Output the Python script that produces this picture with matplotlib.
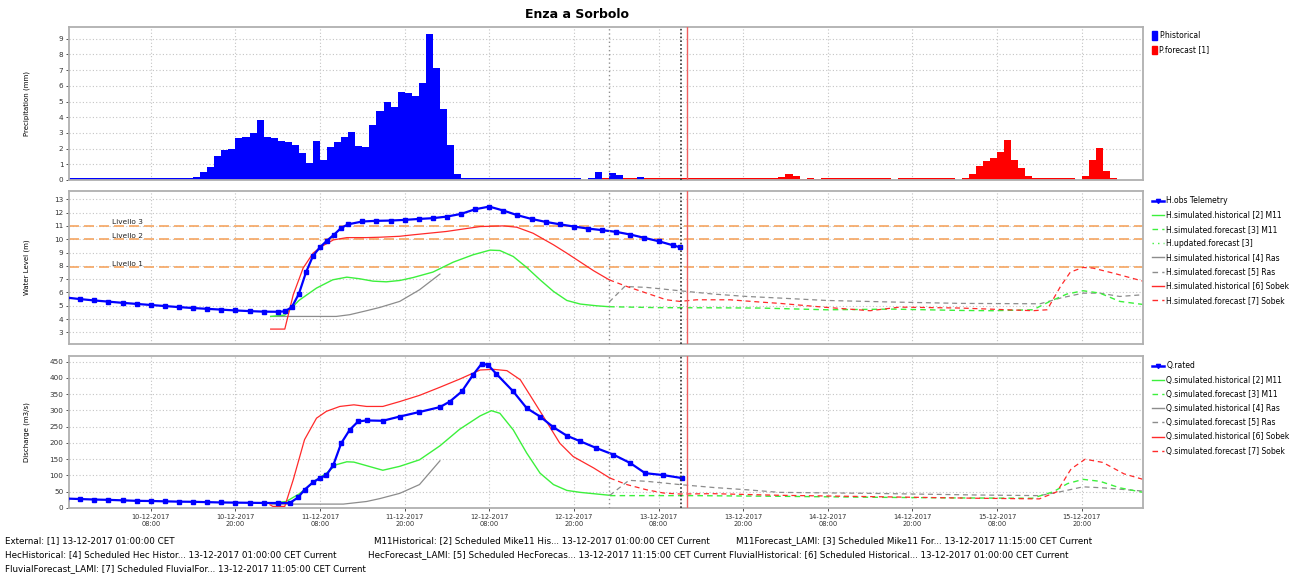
import numpy as np
import pandas as pd
import matplotlib
matplotlib.use('Agg')
import matplotlib.pyplot as plt
import matplotlib.dates as mdates
from matplotlib.patches import Patch
from matplotlib.lines import Line2D

# ---- data (hours from 10-12-2017 00:00) ----
T0 = pd.Timestamp('2017-12-10 00:00')

p_hist_h = list(range(-4, 79))
p_hist = ([0.1] * 16 +
          [0.15, 0.1, 0.2, 0.5, 0.8, 1.55, 1.9, 2.0, 2.65, 2.75, 3.0, 3.8,
           2.75, 2.65, 2.5, 2.4, 2.2, 1.7, 1.1, 2.5, 1.3, 2.1, 2.4, 2.75,
           3.05, 2.15, 2.1, 3.5, 4.4, 5.0, 4.65, 5.6, 5.53, 5.34, 6.19, 9.28,
           7.13, 4.53, 2.23, 0.38] +
          [0.1] * 17 +
          [0.0, 0.15, 0.49, 0.0, 0.45, 0.32, 0.0, 0.0, 0.2, 0.0])

p_fc_h = list(range(72, 145))
p_fc = ([0.1] * 25 +
        [0.2, 0.4, 0.25, 0.05, 0.13, 0.05] +
        [0.1] * 10 + [0.0] + [0.1] * 8 + [0.0] +
        [0.13, 0.36, 0.87, 1.19, 1.4, 1.81, 2.53, 1.26, 0.79, 0.26] +
        [0.1] * 6 + [0.0, 0.23, 1.26, 2.02, 0.6, 0.1])

h_obs_h = [-4, -2, 0, 2, 4, 6, 8, 10, 12, 14, 16, 18, 20, 22, 24, 26, 27, 28, 29,
           30, 31, 32, 33, 34, 35, 36, 38, 40, 42, 44, 46, 48, 50, 52, 54, 56, 58,
           60, 62, 64, 66, 68, 70, 72, 74, 76, 78, 80, 82, 83]
h_obs = [5.62, 5.5, 5.4, 5.31, 5.22, 5.14, 5.06, 4.98, 4.9, 4.83, 4.77, 4.71,
         4.65, 4.6, 4.56, 4.55, 4.58, 4.9, 5.9, 7.5, 8.75, 9.4, 9.9, 10.35, 10.85,
         11.12, 11.33, 11.38, 11.4, 11.45, 11.52, 11.58, 11.7, 11.9, 12.25, 12.45,
         12.15, 11.8, 11.52, 11.3, 11.12, 10.95, 10.8, 10.68, 10.55, 10.35, 10.1,
         9.85, 9.55, 9.4]

h_m11_hist_h = [25, 27, 29, 31.5, 33.8, 35.8, 37.6, 39.5, 41.4, 43.3, 45.2, 48,
                50.9, 53.7, 56.1, 57.5, 59.4, 61.3, 63.2, 65.1, 67, 68.9, 71.2, 73]
h_m11_hist = [4.2, 4.3, 5.4, 6.33, 6.95, 7.15, 7.03, 6.85, 6.8, 6.9, 7.12, 7.53,
              8.28, 8.83, 9.18, 9.15, 8.7, 7.88, 6.95, 6.08, 5.4, 5.13, 5.0, 4.93]
h_m11_fc_h = [73, 80, 87, 94.4, 103.8, 113.3, 122.8, 127.4, 133.1, 135.5, 137.9,
              140.2, 142.6, 145.4, 148.7]
h_m11_fc = [4.93, 4.86, 4.85, 4.83, 4.7, 4.75, 4.65, 4.63, 4.7, 5.33, 5.88, 6.13,
            5.95, 5.33, 5.1]

h_ras_hist_h = [25, 34.3, 36.2, 38.6, 40.5, 43.3, 46.1, 49]
h_ras_hist = [4.2, 4.2, 4.33, 4.63, 4.88, 5.33, 6.2, 7.38]
h_ras_fc_h = [73, 75.2, 78.3, 83, 87.8, 92.5, 97.2, 103.8, 113.3, 122.8, 134.1,
              137, 140.2, 142.6, 145.4, 148.7]
h_ras_fc = [5.28, 6.45, 6.38, 6.13, 5.88, 5.7, 5.58, 5.4, 5.28, 5.18, 5.15, 5.58,
            5.95, 5.95, 5.7, 5.83]

h_sob_hist_h = [25, 27, 28.2, 29.6, 31, 32.2, 33.9, 35.8, 38.6, 40.5, 43.3, 45.2,
                49.9, 54.7, 58, 59.9, 62.2, 65.1, 67, 70.8, 73]
h_sob_hist = [3.25, 3.25, 5.83, 7.83, 8.95, 9.45, 9.95, 10.12, 10.12, 10.15, 10.22,
              10.33, 10.58, 10.95, 11.0, 10.9, 10.45, 9.58, 8.95, 7.63, 6.95]
h_sob_fc_h = [73, 75.5, 78.3, 81.1, 83, 85.4, 90.1, 94.4, 97.2, 103.8, 110, 114.2,
              122.8, 133.1, 135.1, 137, 138.4, 140.2, 141.6, 144.5, 148.7]
h_sob_fc = [6.95, 6.45, 5.95, 5.45, 5.33, 5.45, 5.45, 5.28, 5.18, 4.88, 4.63, 4.9,
            4.83, 4.63, 4.7, 6.45, 7.53, 7.88, 7.83, 7.45, 6.85]

levels = [11.0, 10.0, 7.9]
level_names = ['Livello 3', 'Livello 2', 'Livello 1']

q_obs_h = [-4, -2, 0, 2, 4, 6, 8, 10, 12, 14, 16, 18, 20, 22, 24, 26, 27.7, 28.9,
           29.8, 31, 32, 32.9, 33.9, 35, 36.2, 37.4, 38.6, 40.9, 43.3, 46.1, 49,
           50.4, 52.1, 53.7, 54.9, 55.8, 57, 59.4, 61.3, 63.2, 65.1, 67, 68.9,
           71.2, 73.6, 76, 78.1, 80.7, 83.3]
q_obs = [29, 27.5, 26, 25, 23.5, 22, 21.5, 20.5, 19.5, 19, 18, 17, 16.5, 16, 15.5,
         15.3, 15.3, 32.7, 56, 79, 92, 101, 133, 199, 240, 266, 269, 268, 281, 295,
         310, 327, 358, 409, 443, 440, 412, 358, 307, 281, 248, 222, 205, 184, 164,
         138, 107, 101, 92]

q_m11_hist_h = [25.1, 27.2, 29.1, 31.5, 32.9, 34.3, 35.8, 36.8, 38.6, 40.9, 43.3,
                46.1, 49, 51.8, 54.7, 56.3, 57.5, 59.4, 61.3, 63.2, 65.1, 67, 68.9,
                73.1]
q_m11_hist = [15, 20, 44, 87, 107, 133, 142, 141, 130, 116, 128, 148, 191, 242,
              283, 299, 291, 240, 169, 107, 72, 54, 48, 39]
q_m11_fc_h = [73.1, 85, 97, 110, 122, 133, 136, 138, 140.2, 142.6, 145.4, 148.7]
q_m11_fc = [38, 38, 36, 33, 31, 30, 50, 75, 88, 82, 62, 48]

q_ras_hist_h = [25.1, 35.3, 38.6, 40.5, 43.3, 46.1, 49]
q_ras_hist = [12, 12, 20, 29, 45, 72, 145]
q_ras_fc_h = [73.1, 75.8, 78.3, 83, 87.8, 92.5, 97.2, 110, 125, 134, 137, 140.2,
              143, 148.7]
q_ras_fc = [39, 85, 82, 72, 63, 56, 48, 45, 40, 38, 50, 65, 62, 52]

q_sob_hist_h = [24.9, 25.3, 27, 28.2, 29.8, 31.5, 32.9, 34.8, 36.8, 38.6, 40.9,
                43.3, 46.1, 49, 51.8, 54.7, 56.6, 58.5, 60.4, 62.2, 64.1, 66, 67.9,
                70.8, 73.1]
q_sob_hist = [10, 5, 5, 87, 210, 276, 297, 312, 317, 312, 312, 327, 346, 371, 396,
              424, 426, 422, 394, 332, 266, 199, 158, 123, 92]
q_sob_fc_h = [73.1, 75.5, 78.3, 80.7, 83, 87.8, 97.2, 110, 125, 134, 136.5, 138.5,
              140.5, 143, 146, 148.7]
q_sob_fc = [92, 72, 56, 46, 43, 44, 39, 35, 30, 28, 50, 120, 150, 140, 105, 88]

t_hist_end = 73.0      # 13-12-2017 01:00
t_forecast = 83.25     # 13-12-2017 11:15
t_now = 84.0           # 13-12-2017 12:00
x_range = (-3.6, 148.7)


def T(h):
    return T0 + pd.to_timedelta(np.asarray(h, dtype=float), unit='h')


W, H = 1293, 577
fig = plt.figure(figsize=(W / 100, H / 100), dpi=100)


def rect(l, t, r, b):
    return [l / W, 1 - b / H, (r - l) / W, (b - t) / H]


ax1 = fig.add_axes(rect(69, 27, 1143, 180))
ax2 = fig.add_axes(rect(69, 191, 1143, 344), sharex=ax1)
ax3 = fig.add_axes(rect(69, 356, 1143, 508), sharex=ax1)

GREEN = '#3cf03c'
RED = '#ff2a2a'
GRAY = '#8c8c8c'
BLUE = '#0000ff'
ORANGE = '#f5a561'

for ax in (ax1, ax2, ax3):
    ax.grid(True, color='#c4c4c4', linestyle=(0, (1, 2)), linewidth=0.8)
    ax.set_axisbelow(True)
    for s in ax.spines.values():
        s.set_color('#b0b0b0')
        s.set_linewidth(1.3)
    ax.tick_params(labelsize=5.2, colors='#333333', length=2, width=0.6,
                   pad=2)
    ax.axvline(T([t_hist_end])[0], color='#909090',
               linestyle=(0, (1, 2)), linewidth=1.0, zorder=5)
    ax.axvline(T([t_forecast])[0], color='#333333', linestyle=(0, (1, 1.3)),
               linewidth=1.2, zorder=5)
    ax.axvline(T([t_now])[0], color='#f06060', linewidth=1.0, zorder=6)

leg_kw = dict(loc='upper left', bbox_to_anchor=(1.006, 0.985), frameon=False,
              fontsize=5.5, handletextpad=0.3, borderaxespad=0)

# ---- precipitation ----
ax1.bar(T(p_fc_h), p_fc, width=1 / 24, align='edge', color='#ff0000',
        linewidth=0)
ax1.bar(T(p_hist_h), p_hist, width=1 / 24, align='edge', color=BLUE,
        linewidth=0)
ax1.set_ylim(0, 9.75)
ax1.set_yticks(range(0, 10))
ax1.set_ylabel('Precipitation (mm)', fontsize=5)
ax1.yaxis.set_label_coords(-0.036, 0.5)
leg_p = dict(leg_kw, bbox_to_anchor=(1.006, 0.995))
ax1.legend(handles=[Patch(color=BLUE, label='P.historical'),
                    Patch(color='#ff0000', label='P.forecast [1]')],
           handlelength=0.6, handleheight=1.4, labelspacing=0.75, **leg_p)

# ---- water level ----
for lv, name in zip(levels, level_names):
    ax2.axhline(lv, color=ORANGE, linestyle=(0, (6, 3)), linewidth=1.2, zorder=2)
    ax2.text(T([2.43])[0], lv + 0.05, name, fontsize=5.3, va='bottom',
             ha='left', color='#222222')
ax2.plot(T(h_ras_hist_h), h_ras_hist, color=GRAY, lw=0.9)
ax2.plot(T(h_ras_fc_h), h_ras_fc, color=GRAY, lw=0.9, ls=(0, (4, 3)))
ax2.plot(T(h_m11_hist_h), h_m11_hist, color=GREEN, lw=1.0)
ax2.plot(T(h_m11_fc_h), h_m11_fc, color=GREEN, lw=1.0, ls=(0, (4, 3)))
ax2.plot(T(h_sob_hist_h), h_sob_hist, color=RED, lw=0.9)
ax2.plot(T(h_sob_fc_h), h_sob_fc, color=RED, lw=0.9, ls=(0, (4, 3)))
ax2.plot(T(h_obs_h), h_obs, color=BLUE, lw=1.6, marker='s', ms=2.6, zorder=4)
ax2.set_ylim(2.13, 13.62)
ax2.set_yticks(range(3, 14))
ax2.set_ylabel('Water Level (m)', fontsize=5)
ax2.yaxis.set_label_coords(-0.036, 0.5)
h_handles = [
    Line2D([], [], color=BLUE, lw=1.8, marker='v', ms=3),
    Line2D([], [], color=GREEN, lw=1.0),
    Line2D([], [], color=GREEN, lw=1.0, ls=(0, (4, 3))),
    Line2D([], [], color=GREEN, lw=1.0, ls=(0, (1, 3))),
    Line2D([], [], color=GRAY, lw=1.0),
    Line2D([], [], color=GRAY, lw=1.0, ls=(0, (4, 3))),
    Line2D([], [], color=RED, lw=1.0),
    Line2D([], [], color=RED, lw=1.0, ls=(0, (4, 3))),
]
h_labels = ['H.obs Telemetry', 'H.simulated.historical [2] M11',
            'H.simulated.forecast [3] M11', 'H.updated.forecast [3]',
            'H.simulated.historical [4] Ras', 'H.simulated.forecast [5] Ras',
            'H.simulated.historical [6] Sobek', 'H.simulated.forecast [7] Sobek']
ax2.legend(h_handles, h_labels, handlelength=1.5, labelspacing=0.68, **leg_kw)

# ---- discharge ----
ax3.plot(T(q_ras_hist_h), q_ras_hist, color=GRAY, lw=0.9)
ax3.plot(T(q_ras_fc_h), q_ras_fc, color=GRAY, lw=0.9, ls=(0, (4, 3)))
ax3.plot(T(q_m11_hist_h), q_m11_hist, color=GREEN, lw=1.0)
ax3.plot(T(q_m11_fc_h), q_m11_fc, color=GREEN, lw=1.0, ls=(0, (4, 3)))
ax3.plot(T(q_sob_hist_h), q_sob_hist, color=RED, lw=0.9)
ax3.plot(T(q_sob_fc_h), q_sob_fc, color=RED, lw=0.9, ls=(0, (4, 3)))
ax3.plot(T(q_obs_h), q_obs, color=BLUE, lw=1.6, marker='s', ms=2.6, zorder=4)
ax3.set_ylim(0, 467)
ax3.set_yticks(range(0, 451, 50))
ax3.set_ylabel('Discharge (m3/s)', fontsize=5)
ax3.yaxis.set_label_coords(-0.036, 0.5)
q_handles = [
    Line2D([], [], color=BLUE, lw=1.8, marker='v', ms=3),
    Line2D([], [], color=GREEN, lw=1.0),
    Line2D([], [], color=GREEN, lw=1.0, ls=(0, (4, 3))),
    Line2D([], [], color=GRAY, lw=1.0),
    Line2D([], [], color=GRAY, lw=1.0, ls=(0, (4, 3))),
    Line2D([], [], color=RED, lw=1.0),
    Line2D([], [], color=RED, lw=1.0, ls=(0, (4, 3))),
]
q_labels = ['Q.rated', 'Q.simulated.historical [2] M11',
            'Q.simulated.forecast [3] M11', 'Q.simulated.historical [4] Ras',
            'Q.simulated.forecast [5] Ras', 'Q.simulated.historical [6] Sobek',
            'Q.simulated.forecast [7] Sobek']
ax3.legend(q_handles, q_labels, handlelength=1.5, labelspacing=0.68, **leg_kw)

# ---- x axis ----
ax1.set_xlim(T([x_range[0]])[0], T([x_range[1]])[0])
ax3.xaxis.set_major_locator(mdates.HourLocator(byhour=[8, 20]))
ax3.xaxis.set_major_formatter(mdates.DateFormatter('%d-%m-%Y\n%H:%M'))
for ax in (ax1, ax2):
    ax.tick_params(axis='x', labelbottom=False, length=0)
for lab in ax3.get_xticklabels():
    lab.set_ha('center')
    lab.set_fontsize(4.8)

fig.text(577 / W, 1 - 15 / H, 'Enza a Sorbolo', ha='center', va='center',
         fontsize=9, fontweight='bold')

foot = 6.3
fig.text(5 / W, 1 - 541 / H, 'External: [1] 13-12-2017 01:00:00 CET',
         fontsize=foot, va='center')
fig.text(374 / W, 1 - 541 / H,
         'M11Historical: [2] Scheduled Mike11 His... 13-12-2017 01:00:00 CET Current',
         fontsize=foot, va='center')
fig.text(736 / W, 1 - 541 / H,
         'M11Forecast_LAMI: [3] Scheduled Mike11 For... 13-12-2017 11:15:00 CET Current',
         fontsize=foot, va='center')
fig.text(5 / W, 1 - 555 / H,
         'HecHistorical: [4] Scheduled Hec Histor... 13-12-2017 01:00:00 CET Current',
         fontsize=foot, va='center')
fig.text(368 / W, 1 - 555 / H,
         'HecForecast_LAMI: [5] Scheduled HecForecas... 13-12-2017 11:15:00 CET Current '
         'FluvialHistorical: [6] Scheduled Historical... 13-12-2017 01:00:00 CET Current',
         fontsize=foot, va='center')
fig.text(5 / W, 1 - 569 / H,
         'FluvialForecast_LAMI: [7] Scheduled FluvialFor... 13-12-2017 11:05:00 CET Current',
         fontsize=foot, va='center')

fig.savefig('out.png', dpi=100, facecolor='white')
